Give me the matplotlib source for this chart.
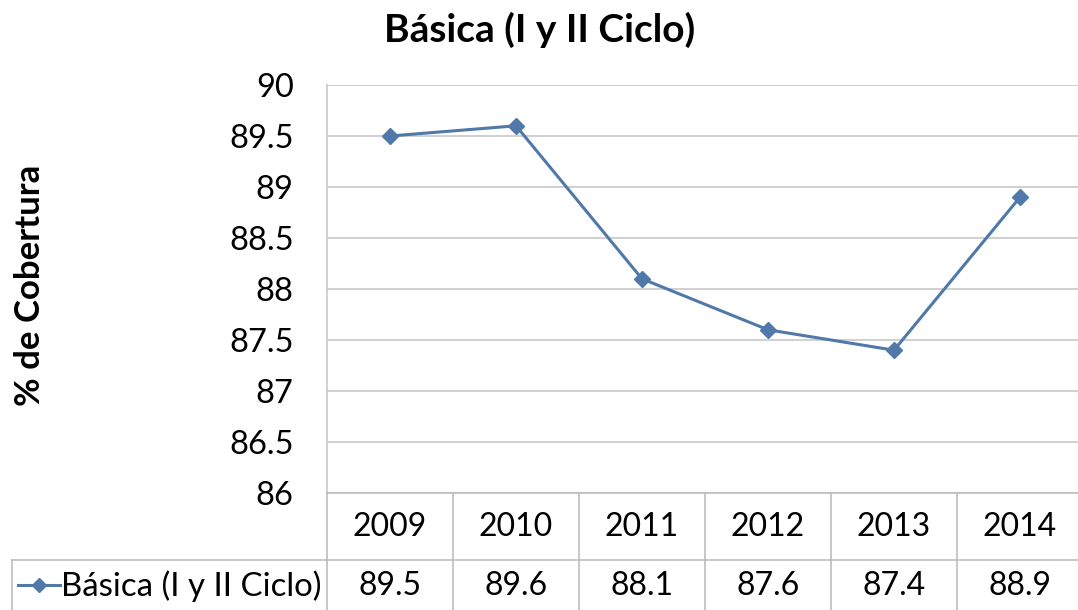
import matplotlib
matplotlib.use("Agg")
import matplotlib.pyplot as plt
from matplotlib.transforms import blended_transform_factory
from matplotlib.lines import Line2D

years = ["2009", "2010", "2011", "2012", "2013", "2014"]
values = [89.5, 89.6, 88.1, 87.6, 87.4, 88.9]
yticks = [86, 86.5, 87, 87.5, 88, 88.5, 89, 89.5, 90]
ytick_labels = ["86", "86.5", "87", "87.5", "88", "88.5", "89", "89.5", "90"]
series_name = "Básica (I y II Ciclo)"
title = "Básica (I y II Ciclo)"
ylabel = "% de Cobertura"

W, H = 1078, 610
plt.rcParams["font.family"] = ["Lato", "DejaVu Sans"]
fig = plt.figure(figsize=(W / 100, H / 100), dpi=100)

line_color = "#5079AA"
grid_color = "#C8C8C8"

# plot area in pixels
x0, x1 = 327, 1083
y_top, y_bot = 85, 493
ax = fig.add_axes([x0 / W, 1 - y_bot / H, (x1 - x0) / W, (y_bot - y_top) / H])
ax.set_xlim(-0.5, len(years) - 0.5)
ax.set_ylim(86, 90)
ax.plot(range(len(years)), values, color=line_color, lw=2.2, marker="D",
        markersize=8, markerfacecolor=line_color, markeredgecolor=line_color,
        zorder=3)
ax.set_yticks(yticks)
ax.set_yticklabels(ytick_labels, fontsize=23.5)
ax.set_xticks([])
ax.yaxis.grid(True, color=grid_color, lw=1.2)
ax.tick_params(axis="y", length=0, pad=24)
for s in ["top", "right", "bottom"]:
    ax.spines[s].set_visible(False)
ax.spines["left"].set_color(grid_color)
ax.spines["left"].set_linewidth(1.2)

# Title and y label
fig.text(540 / W, 1 - 30 / H, title, ha="center", va="center",
         fontsize=28, fontweight="bold")
fig.text(30 / W, 1 - 285 / H, ylabel, ha="center", va="center",
         rotation=90, fontsize=25, fontweight="bold")

# Data table below
tr = blended_transform_factory(ax.transData, fig.transFigure)
row1_top, row1_bot = 493, 560
row2_bot = 640

def fy(py):
    return 1 - py / H

lc = "#BEBEBE"
fig.add_artist(Line2D([x0 / W, x1 / W], [fy(row1_top)] * 2, color=lc, lw=1.2,
                      transform=fig.transFigure))
fig.add_artist(Line2D([12 / W, x1 / W], [fy(row1_bot)] * 2, color=lc, lw=1.2,
                      transform=fig.transFigure))
for i in range(len(years) + 1):
    xb = i - 0.5
    fig.add_artist(Line2D([xb, xb], [fy(row1_top), fy(row2_bot)], color=lc,
                          lw=1.2, transform=tr))
fig.add_artist(Line2D([12 / W, 12 / W], [fy(row1_bot), fy(row2_bot)], color=lc,
                      lw=1.2, transform=fig.transFigure))

for i, (yr, v) in enumerate(zip(years, values)):
    fig.text(i, fy(527), yr, transform=tr, ha="center", va="center", fontsize=23)
    fig.text(i, fy(586), f"{v:.1f}", transform=tr, ha="center", va="center",
             fontsize=23)

# legend key
fig.add_artist(Line2D([18 / W, 60 / W], [fy(585)] * 2, color=line_color, lw=2.2,
                      transform=fig.transFigure))
fig.add_artist(Line2D([39 / W], [fy(585)], color=line_color, marker="D",
                      markersize=7, transform=fig.transFigure))
fig.text(61 / W, fy(586), series_name, ha="left", va="center", fontsize=23.8)

fig.savefig("out.png", dpi=100, facecolor="white")
